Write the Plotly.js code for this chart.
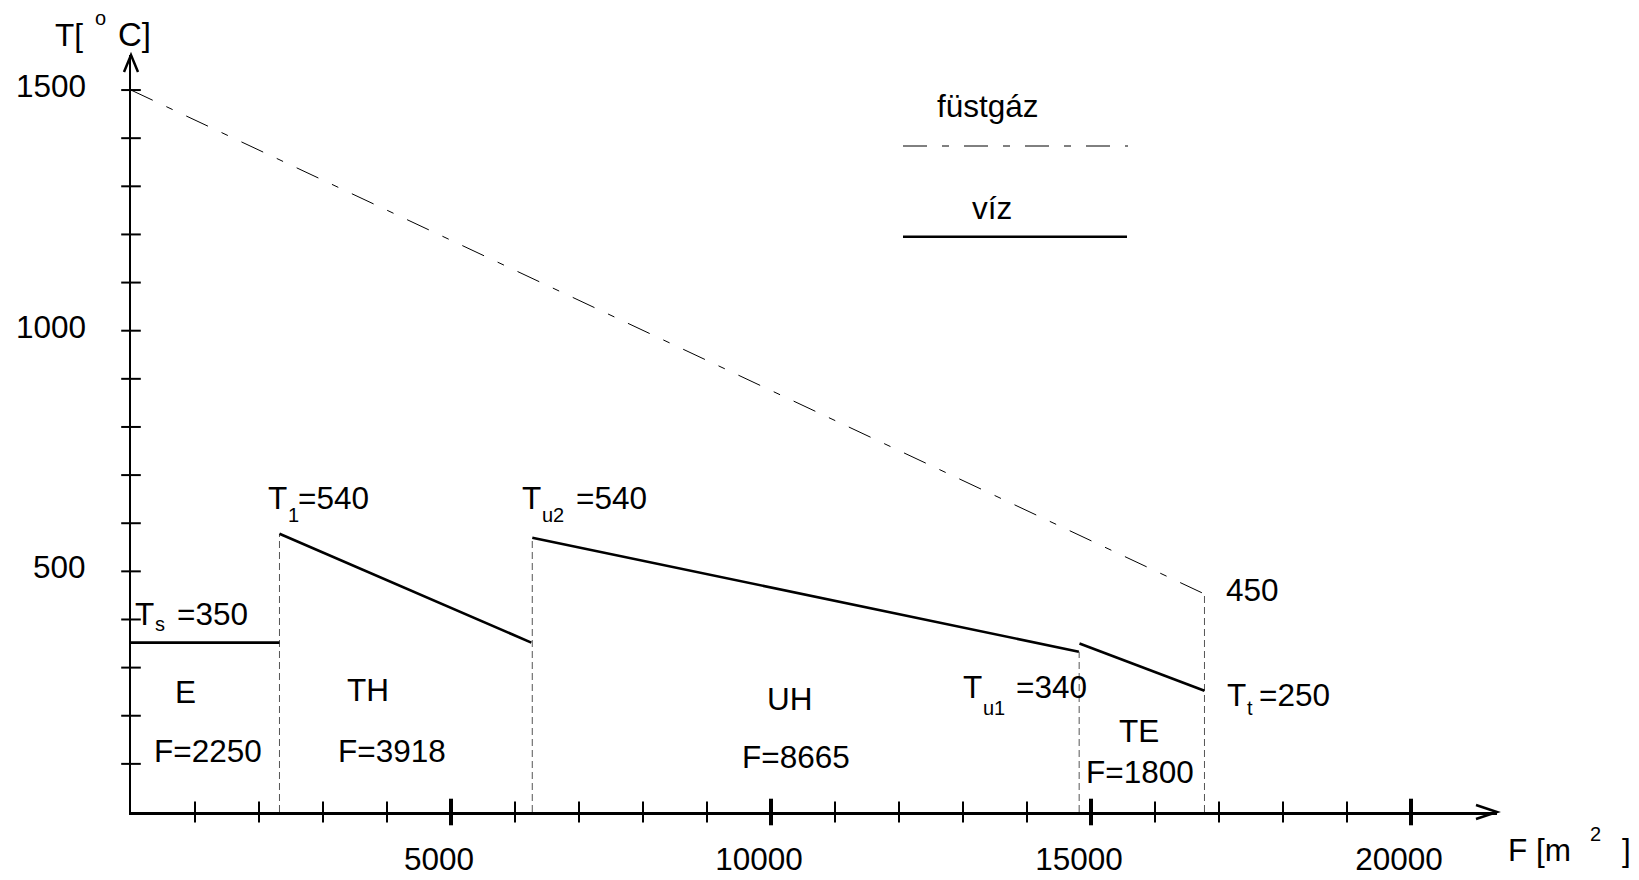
<!DOCTYPE html>
<html>
<head>
<meta charset="utf-8">
<script src="https://cdn.plot.ly/plotly-3.0.1.min.js"></script>
<style>
html,body{margin:0;padding:0;background:#ffffff;}
#chart{width:1639px;height:880px;}
</style>
</head>
<body>
<div id="chart"></div>
<script>
// ---------------- data ----------------
// heat-exchanger sections
const sectionNames = ['E', 'TH', 'UH', 'TE'];
const sectionAreas = [2250, 3918, 8665, 1800];          // F labels [m²]
// water temperature line, one straight segment per section
const segStartF = [0, 2320, 6270, 14820];
const segEndF   = [2320, 6255, 14810, 16773];
const segStartT = [352, 578, 570, 350];
const segEndT   = [352, 352, 333, 252];
// flue gas (füstgáz) line
const flueF = [0, 16773];
const flueT = [1500, 453];
// section boundaries (thin dashed verticals)
const boundaryF   = [2320, 6270, 14815, 16773];
const boundaryTop = [578, 570, 333, 453];
// temperature labels
const tempSubs   = ['s', '1', 'u2', 'u1', 't'];
const tempValues = [350, 540, 540, 340, 250];
const flueEndValue = 450;
// axes
const xTickVals   = [1000,2000,3000,4000,5000,6000,7000,8000,9000,10000,11000,12000,13000,14000,15000,16000,17000,18000,19000,20000];
const xMajorVals  = [5000, 10000, 15000, 20000];
const xTickLabels = ['5000', '10000', '15000', '20000'];
const yTickVals   = [100,200,300,400,500,600,700,800,900,1000,1100,1200,1300,1400,1500];
const yMajorVals  = [500, 1000, 1500];
const yTickLabels = ['500', '1000', '1500'];
const legendNames = ['füstgáz', 'víz'];

// ---------------- layout geometry ----------------
const W = 1639, H = 880;
const L = 131, R = 142, T = 55, B = 68;
const PW = W - L - R, PH = H - T - B;
const X_PER_PX = 1000 / 64;        // m² per pixel
const Y_PER_PX = 100 / 48.13;      // °C per pixel
const xMax = PW * X_PER_PX;
const yMax = PH * Y_PER_PX;
const FONT = 'Liberation Sans, Arial, Helvetica, sans-serif';
const FS = 31.5;
const px = x => (x - L) / PW;
const py = y => (T + PH - y) / PH;

function txt(text, x, yCenter, size, anchor) {
  return {
    xref: 'paper', yref: 'paper', x: px(x), y: py(yCenter),
    text: text, showarrow: false,
    xanchor: anchor || 'left', yanchor: 'middle',
    borderpad: 0, borderwidth: 0,
    font: {family: FONT, size: size || FS, color: '#000'}
  };
}
// small (sub/superscript) text positioned by its baseline
function small(text, x, baseline, size) {
  size = size || 20;
  return txt(text, x, baseline - 0.3465 * size, size, 'left');
}

// ---------------- traces ----------------
const waterX = [], waterY = [];
for (let i = 0; i < segStartF.length; i++) {
  waterX.push(segStartF[i], segEndF[i], null);
  waterY.push(segStartT[i], segEndT[i], null);
}
const bX = [], bY = [];
for (let i = 0; i < boundaryF.length; i++) {
  bX.push(boundaryF[i], boundaryF[i], null);
  bY.push(0, boundaryTop[i], null);
}
const xMinor = xTickVals.filter(v => xMajorVals.indexOf(v) < 0);

const traces = [
  {x: bX, y: bY, mode: 'lines', hoverinfo: 'skip', showlegend: false,
   line: {color: '#555', width: 1, dash: '7px,4px'}},
  {x: flueF, y: flueT, mode: 'lines', name: legendNames[0], showlegend: false,
   line: {color: '#000', width: 1, dash: '24px,15px,7px,15px'}},
  {x: waterX, y: waterY, mode: 'lines', name: legendNames[1], showlegend: false,
   line: {color: '#000', width: 2.6}},
  {x: xMinor, y: xMinor.map(() => 0), mode: 'markers', hoverinfo: 'skip', showlegend: false,
   cliponaxis: false,
   marker: {symbol: 'line-ns', size: 15, color: '#000', line: {color: '#000', width: 2}}},
  {x: xMajorVals, y: xMajorVals.map(() => 0), mode: 'markers', hoverinfo: 'skip', showlegend: false,
   cliponaxis: false,
   marker: {symbol: 'line-ns', size: 19, color: '#000', line: {color: '#000', width: 4}}},
  {x: yTickVals.map(() => 0), y: yTickVals, mode: 'markers', hoverinfo: 'skip', showlegend: false,
   cliponaxis: false,
   marker: {symbol: 'line-ew', size: 14, color: '#000', line: {color: '#000', width: 2}}}
];

// ---------------- annotations ----------------
const ann = [];
// y tick labels, placed on the y scale at their tick values
yMajorVals.forEach((v, i) => {
  ann.push({
    xref: 'paper', yref: 'y', x: px(86), y: v, yshift: 4,
    text: yTickLabels[i], showarrow: false,
    xanchor: 'right', yanchor: 'middle', borderpad: 0, borderwidth: 0,
    font: {family: FONT, size: FS, color: '#000'}
  });
});
// axis titles
ann.push(txt('T[', 55, 35));
ann.push(small('o', 95, 25, 20));
ann.push(txt('C]', 118, 35, 33));
ann.push(txt('F [m', 1508, 850));
ann.push(small('2', 1590, 841, 20));
ann.push(txt(']', 1622, 850));
// temperature labels: [T left, cap centre, sub left, sub baseline, value left]
const tempPos = [
  [135, 614, 154.5, 631, 177],
  [268, 497.5, 287.5, 521.5, 298],
  [522, 497.5, 541.5, 521.5, 576],
  [963, 687, 982.5, 715, 1016],
  [1227, 695, 1246.5, 715, 1259]
];
tempPos.forEach((p, i) => {
  ann.push(txt('T', p[0], p[1]));
  ann.push(small(tempSubs[i], p[2], p[3], 20));
  ann.push(txt('=' + tempValues[i], p[4], p[1]));
});
ann.push(txt(String(flueEndValue), 1226, 590));
// section labels: [centre x, name y, area centre x, area y]
const secPos = [
  [185.5, 692, 207.5, 751],
  [368, 690, 392, 751],
  [790, 699, 796, 757],
  [1139, 731, 1140, 772]
];
secPos.forEach((p, i) => {
  ann.push(txt(sectionNames[i], p[0], p[1], FS, 'center'));
  ann.push(txt('F=' + sectionAreas[i], p[2], p[3], FS, 'center'));
});
// legend texts
ann.push(txt(legendNames[0], 988, 106.4, FS, 'center'));
ann.push(txt(legendNames[1], 992, 207.6, FS, 'center'));

// ---------------- shapes (arrows, legend lines) ----------------
const shapes = [
  {type: 'path', xref: 'paper', yref: 'paper', xsizemode: 'pixel', ysizemode: 'pixel',
   xanchor: 0, yanchor: 1, path: 'M-7,-17L0,0L7,-17',
   line: {color: '#000', width: 2.5}},
  {type: 'path', xref: 'paper', yref: 'paper', xsizemode: 'pixel', ysizemode: 'pixel',
   xanchor: 1, yanchor: 0, path: 'M-21,7L0,0L-21,-7',
   line: {color: '#000', width: 2.5}},
  {type: 'line', xref: 'paper', yref: 'paper', x0: px(903), x1: px(1128), y0: py(146), y1: py(146),
   line: {color: '#000', width: 1, dash: '24px,15px,7px,15px'}},
  {type: 'line', xref: 'paper', yref: 'paper', x0: px(903), x1: px(1127), y0: py(236.7), y1: py(236.7),
   line: {color: '#000', width: 2.6}}
];

const layout = {
  width: W, height: H,
  margin: {l: L, r: R, t: T, b: B, pad: 0},
  paper_bgcolor: '#fff', plot_bgcolor: '#fff',
  showlegend: false,
  font: {family: FONT, size: FS, color: '#000'},
  xaxis: {
    range: [0, xMax], showline: true, linewidth: 2.5, linecolor: '#000',
    showgrid: false, zeroline: false, ticks: '',
    tickmode: 'array', tickvals: xMajorVals, ticktext: xTickLabels,
    tickfont: {family: FONT, size: FS, color: '#000'},
    ticklabelshift: -12, ticklabelstandoff: 18
  },
  yaxis: {
    range: [0, yMax], showline: true, linewidth: 2.5, linecolor: '#000',
    showgrid: false, zeroline: false, ticks: '',
    tickmode: 'array', tickvals: yMajorVals, showticklabels: false
  },
  annotations: ann,
  shapes: shapes
};

Plotly.newPlot('chart', traces, layout, {displayModeBar: false, staticPlot: true});
</script>
</body>
</html>
